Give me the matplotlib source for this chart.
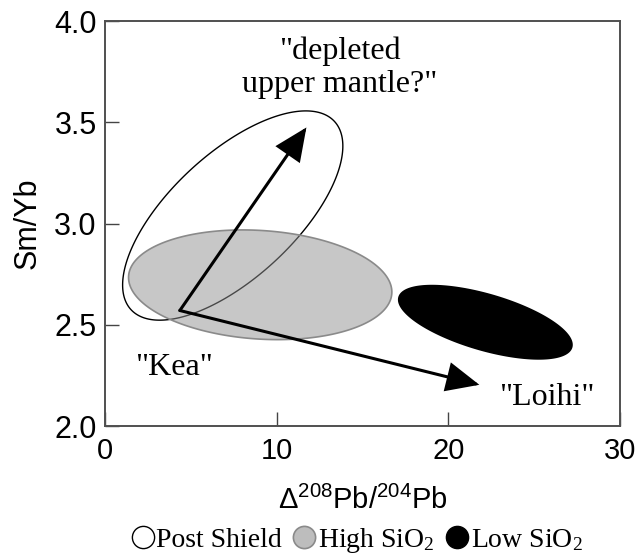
import numpy as np
import matplotlib
matplotlib.use("Agg")
import matplotlib.pyplot as plt
from matplotlib.lines import Line2D

plt.rcParams['font.family'] = ['Liberation Sans', 'DejaVu Sans']
plt.rcParams['mathtext.default'] = 'regular'

# fields (ellipses), sizes given in x-axis units as seen on screen, angle in screen degrees
field_names = ['Post Shield', 'High SiO$_2$', 'Low SiO$_2$']
center_x = [7.44, 9.04, 22.15]
center_y = [3.04, 2.698, 2.513]
semi_major = [8.07, 7.68, 5.23]
semi_minor = [3.62, 3.16, 1.62]
tilt_deg = [42.8, -3.8, -16.2]
face_colors = ['none', (0.57, 0.57, 0.57, 0.5), 'black']
edge_colors = ['black', '#8a8a8a', 'black']

# mixing arrows from "Kea" end member
arrow_start = (4.36, 2.571)
arrow_end_x = [11.73, 21.8]
arrow_end_y = [3.475, 2.204]

# labels
label_text = ['"depleted\nupper mantle?"', '"Kea"', '"Loihi"']
label_x = [13.66, 4.04, 25.7]
label_y = [3.77, 2.254, 2.105]
label_va = ['center', 'baseline', 'baseline']

fig = plt.figure(figsize=(6.4, 5.57), dpi=100)
ax = fig.add_axes([0.164, 0.235, 0.805, 0.727])
ax.set_xlim(0, 30)
ax.set_ylim(2.0, 4.0)

# ratio of pixels per y unit to pixels per x unit
bb = ax.get_position()
k = (bb.height * 557 / 2.0) / (bb.width * 640 / 30.0)

t = np.linspace(0, 2 * np.pi, 400)
for i in range(3):
    th = np.radians(tilt_deg[i])
    u = semi_major[i] * np.cos(t)
    v = semi_minor[i] * np.sin(t)
    xs = center_x[i] + u * np.cos(th) - v * np.sin(th)
    ys = center_y[i] + (u * np.sin(th) + v * np.cos(th)) / k
    lw = 1.0 if i == 0 else 1.2
    ax.fill(xs, ys, facecolor=face_colors[i], edgecolor=edge_colors[i], lw=lw, zorder=2 + i)

for ex, ey in zip(arrow_end_x, arrow_end_y):
    ax.annotate('', xy=(ex, ey), xytext=arrow_start,
                arrowprops=dict(arrowstyle='-|>,head_length=1.0,head_width=0.45',
                                mutation_scale=20, lw=2.2, color='black',
                                shrinkA=0, shrinkB=0, joinstyle='miter'),
                zorder=6)

for s, x, y, va in zip(label_text, label_x, label_y, label_va):
    ax.text(x, y, s, family='Liberation Serif', fontsize=23, ha='center', va=va,
            linespacing=1.15, zorder=7)

ax.set_xticks([0, 10, 20, 30])
ax.set_yticks([2.0, 2.5, 3.0, 3.5, 4.0])
ax.set_yticklabels(['2.0', '2.5', '3.0', '3.5', '4.0'])
ax.tick_params(axis='both', direction='in', length=10, width=1.0, color='#444444')
ax.tick_params(axis='x', labelsize=21, pad=8)
ax.tick_params(axis='y', labelsize=22, pad=6)
for sp in ax.spines.values():
    sp.set_color('#505050')
    sp.set_linewidth(1.4)

ax.set_ylabel('Sm/Yb', fontsize=22, labelpad=8)
ax.set_xlabel('Δ$^{208}$Pb/$^{204}$Pb', fontsize=21, labelpad=15)

handles = [
    Line2D([], [], ls='none', marker='o', markersize=16, markerfacecolor='white',
           markeredgecolor='black', markeredgewidth=1.0),
    Line2D([], [], ls='none', marker='o', markersize=16, markerfacecolor='#bdbdbd',
           markeredgecolor='#8a8a8a', markeredgewidth=1.2),
    Line2D([], [], ls='none', marker='o', markersize=16, markerfacecolor='black',
           markeredgecolor='black'),
]
fig.legend(handles, field_names, loc='center', bbox_to_anchor=(0.557, 0.03), ncol=3,
           frameon=False, handlelength=0.9, handletextpad=0.05, columnspacing=0.35,
           borderaxespad=0, prop={'family': 'Liberation Serif', 'size': 20})

fig.savefig('out.png', dpi=100)
